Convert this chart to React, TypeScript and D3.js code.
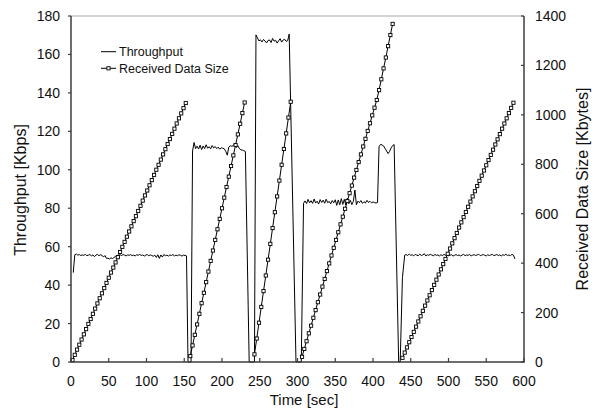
import React from 'react';
import * as d3 from 'd3';

// time ticks [sec] and the two value axes
const timeTicks = [0, 50, 100, 150, 200, 250, 300, 350, 400, 450, 500, 550, 600];
const kbpsTicks = [0, 20, 40, 60, 80, 100, 120, 140, 160, 180];
const kbyteTicks = [0, 200, 400, 600, 800, 1000, 1200, 1400];

// throughput [Kbps] per transfer, as [time, value]
const throughput1 = [
  [3, 46.5], [5, 55.8], [7, 56.2], [9, 55.6], [11, 55.9], [13, 55.4], [15, 55.7], [17, 55.5], [19, 56.0], [21, 55.3],
  [23, 55.6], [25, 55.9], [27, 55.2], [29, 55.7], [31, 54.8], [33, 55.6], [35, 56.0], [37, 55.3], [39, 55.8], [41, 55.5],
  [43, 54.6], [45, 55.4], [47, 53.9], [49, 54.0], [51, 53.6], [53, 54.2], [55, 53.8], [57, 54.4], [59, 54.9], [61, 55.6],
  [63, 55.1], [65, 55.8], [67, 55.4], [69, 55.9], [71, 55.6], [73, 55.2], [75, 55.7], [77, 55.5], [79, 55.9], [81, 55.3],
  [83, 55.6], [85, 55.2], [87, 55.8], [89, 55.5], [91, 56.0], [93, 55.4], [95, 55.7], [97, 55.1], [99, 55.6], [101, 55.9],
  [103, 55.3], [105, 55.7], [107, 55.4], [109, 55.0], [111, 55.6], [113, 54.4], [115, 55.8], [117, 53.9], [119, 55.7], [121, 54.6],
  [123, 55.9], [125, 55.3], [127, 55.6], [129, 55.1], [131, 55.7], [133, 55.4], [135, 55.9], [137, 55.2], [139, 55.6], [141, 55.3],
  [143, 55.8], [145, 55.5], [147, 55.1], [149, 55.6], [151, 55.4], [153, 55.2], [155, 0],
];
const throughput2 = [
  [159, 0], [161, 109.8], [163, 114.2], [165, 111.0], [167, 112.3], [169, 110.8], [171, 112.8], [173, 110.5], [175, 112.4],
  [177, 111.0], [179, 113.0], [181, 111.2], [183, 112.0], [185, 110.9], [187, 112.6], [189, 111.4], [191, 112.1], [193, 111.0],
  [195, 111.8], [197, 110.7], [199, 111.5], [201, 111.2], [203, 110.9], [205, 109.6], [207, 107.6], [209, 111.8], [211, 112.5],
  [213, 112.2], [215, 112.6], [217, 113.8], [219, 111.6], [221, 112.5], [223, 111.0], [225, 110.4], [227, 110.2], [229, 109.9],
  [231, 109.5], [236, 0],
];
const throughput3 = [
  [243, 0], [245, 170.2], [247, 168.6], [249, 167.0], [251, 167.6], [253, 166.5], [255, 167.8], [257, 167.0], [259, 166.0],
  [261, 167.3], [263, 167.5], [265, 166.2], [267, 168.3], [269, 166.9], [271, 167.4], [273, 165.9], [275, 167.1], [277, 168.2],
  [279, 166.4], [281, 167.5], [283, 167.9], [285, 166.8], [287, 167.2], [289, 170.6], [298, 0],
];
const throughput4 = [
  [305, 0], [308, 82.6], [310, 83.8], [312, 82.4], [314, 84.6], [316, 82.8], [318, 83.9], [320, 82.5], [322, 84.8], [324, 82.7],
  [326, 83.6], [328, 82.2], [330, 84.5], [332, 83.0], [334, 84.2], [336, 82.6], [338, 84.7], [340, 82.9], [342, 83.5], [344, 82.3],
  [346, 84.0], [348, 82.8], [350, 84.4], [352, 81.5], [354, 84.3], [356, 81.8], [358, 85.0], [360, 82.0], [362, 84.6], [364, 81.6],
  [366, 85.2], [368, 82.4], [370, 84.1], [372, 81.9], [374, 83.6], [376, 89.5], [378, 81.8], [380, 83.7], [382, 82.9], [384, 84.0],
  [386, 82.5], [388, 83.4], [390, 82.7], [392, 84.1], [394, 83.0], [396, 83.6], [398, 82.8], [400, 83.3], [402, 82.9], [404, 82.7],
  [406, 83.0], [408, 112.0], [410, 113.2], [412, 112.9], [414, 112.4], [416, 111.0], [418, 109.8], [420, 108.4], [422, 109.6],
  [424, 111.4], [426, 112.6], [428, 113.1], [434, 0],
];
const throughput5 = [
  [436, 0], [439, 44.0], [442, 55.6], [444, 55.9], [446, 55.4], [448, 56.2], [450, 55.5], [452, 55.8], [454, 55.2], [456, 56.0],
  [458, 55.6], [460, 55.3], [462, 56.1], [464, 55.4], [466, 55.7], [468, 56.3], [470, 55.2], [472, 55.8], [474, 55.5], [476, 56.0],
  [478, 55.6], [480, 55.3], [482, 55.9], [484, 55.5], [486, 55.7], [488, 55.2], [490, 55.8], [492, 55.4], [494, 56.0], [496, 55.5],
  [498, 55.9], [500, 55.3], [502, 55.6], [504, 55.8], [506, 55.1], [508, 55.5], [510, 55.9], [512, 55.4], [514, 55.7], [516, 55.2],
  [518, 55.6], [520, 56.0], [522, 55.3], [524, 55.7], [526, 55.5], [528, 55.9], [530, 55.2], [532, 55.6], [534, 55.8], [536, 55.4],
  [538, 55.7], [540, 56.1], [542, 55.3], [544, 55.6], [546, 55.9], [548, 55.5], [550, 55.2], [552, 55.8], [554, 55.4], [556, 55.7],
  [558, 56.0], [560, 55.3], [562, 55.6], [564, 55.9], [566, 55.4], [568, 55.7], [570, 55.2], [572, 55.8], [574, 55.5], [576, 56.1],
  [578, 55.4], [580, 55.7], [582, 55.3], [584, 56.0], [586, 55.6], [588, 53.6],
];

// received data size [Kbytes] per transfer, as [time, value]
const received1 = [
  [2, 8], [5, 29], [8, 50], [11, 70], [14, 91], [17, 112], [20, 133], [23, 154], [26, 174], [29, 195], [32, 216], [35, 237],
  [38, 258], [41, 278], [44, 299], [47, 320], [50, 341], [53, 362], [56, 382], [59, 403], [62, 424], [65, 445], [68, 466],
  [71, 486], [74, 507], [77, 528], [80, 549], [83, 570], [86, 590], [89, 611], [92, 632], [95, 653], [98, 674], [101, 694],
  [104, 715], [107, 736], [110, 757], [113, 778], [116, 798], [119, 819], [122, 840], [125, 861], [128, 882], [131, 902],
  [134, 923], [137, 944], [140, 965], [143, 986], [146, 1006], [149, 1027], [152, 1048],
];
const received2 = [
  [158, 24], [161, 67], [164, 110], [167, 152], [170, 195], [173, 238], [176, 280], [179, 323], [182, 366], [185, 409],
  [188, 451], [191, 494], [194, 537], [197, 579], [200, 622], [203, 665], [206, 708], [209, 750], [212, 793], [215, 836],
  [218, 878], [221, 921], [224, 964], [227, 1007], [230, 1050],
];
const received3 = [
  [243, 31], [246, 95], [249, 159], [252, 223], [255, 287], [258, 350], [261, 414], [264, 478], [267, 542], [270, 606],
  [273, 670], [276, 734], [279, 798], [282, 862], [285, 925], [288, 989], [291, 1053],
];
const received4 = [
  [306, 21], [309, 53], [312, 84], [315, 116], [318, 147], [321, 179], [324, 210], [327, 242], [330, 273], [333, 305],
  [336, 336], [339, 368], [342, 399], [345, 431], [348, 462], [351, 494], [354, 525], [357, 557], [360, 588], [363, 620],
  [366, 651], [369, 683], [372, 714], [375, 746], [378, 777], [381, 809], [384, 840], [387, 872], [390, 903], [393, 935],
  [396, 966], [399, 998], [402, 1029], [405, 1060], [408, 1100], [411, 1144], [414, 1188], [417, 1232], [420, 1278],
  [423, 1323], [426, 1368],
];
const received5 = [
  [439, 17], [442, 38], [445, 59], [448, 80], [451, 101], [454, 122], [457, 143], [460, 164], [463, 185], [466, 207],
  [469, 228], [472, 249], [475, 270], [478, 291], [481, 312], [484, 333], [487, 354], [490, 375], [493, 396], [496, 417],
  [499, 438], [502, 459], [505, 480], [508, 501], [511, 522], [514, 544], [517, 565], [520, 586], [523, 607], [526, 628],
  [529, 649], [532, 670], [535, 691], [538, 712], [541, 733], [544, 754], [547, 775], [550, 796], [553, 817], [556, 838],
  [559, 859], [562, 880], [565, 901], [568, 922], [571, 944], [574, 965], [577, 986], [580, 1007], [583, 1028], [586, 1049],
];

const font = '"Liberation Sans", Arial, sans-serif';
const axisColor = '#3c3c3c';

export default function App() {
  const width = 595, height = 410;
  const left = 71, right = 524, top = 16, bottom = 362;

  const x = d3.scaleLinear().domain([0, 600]).range([left, right]);
  const yL = d3.scaleLinear().domain([0, 180]).range([bottom, top]);
  const yR = d3.scaleLinear().domain([0, 1400]).range([bottom, top]);

  const tpLine = d3.line<number[]>().x(d => x(d[0])).y(d => yL(d[1]));
  const rdLine = d3.line<number[]>().x(d => x(d[0])).y(d => yR(d[1]));

  const throughput = [...throughput1, ...throughput2, ...throughput3, ...throughput4, ...throughput5];
  const received = [received1, received2, received3, received4, received5];

  const square = (cx: number, cy: number, key: string) => (
    <rect key={key} x={cx - 1.6} y={cy - 1.6} width={3.2} height={3.2}
      fill="white" stroke="black" strokeWidth={0.9} />
  );

  return (
    <svg width={width} height={height} style={{ position: 'absolute', left: 0, top: 0, background: 'white' }}
      fontFamily={font}>
      {/* frame */}
      <line x1={left} x2={right} y1={top} y2={top} stroke="#a8a8a8" strokeWidth={1} />

      {/* data */}
      <path d={tpLine(throughput) || ''} fill="none" stroke="black" strokeWidth={1} />
      {received.map((seg, i) => (
        <g key={'r' + i}>
          <path d={rdLine(seg) || ''} fill="none" stroke="black" strokeWidth={1} />
          {seg.map((d, j) => square(x(d[0]), yR(d[1]), i + '-' + j))}
        </g>
      ))}

      {/* axes */}
      <line x1={left} x2={left} y1={top} y2={bottom} stroke={axisColor} strokeWidth={1.5} />
      <line x1={right} x2={right} y1={top} y2={bottom} stroke={axisColor} strokeWidth={1.5} />
      <line x1={left - 0.75} x2={right + 0.75} y1={bottom} y2={bottom} stroke={axisColor} strokeWidth={1.5} />

      {timeTicks.map(t => (
        <g key={'x' + t}>
          <line x1={x(t)} x2={x(t)} y1={bottom} y2={bottom - 4} stroke={axisColor} strokeWidth={1.2} />
          <text x={x(t)} y={386} textAnchor="middle" fontSize={14} fill="#111">{t}</text>
        </g>
      ))}
      {kbpsTicks.map(v => (
        <g key={'l' + v}>
          <line x1={left - 3} x2={left} y1={yL(v)} y2={yL(v)} stroke={axisColor} strokeWidth={1.2} />
          <text x={60} y={yL(v)} dy="0.36em" textAnchor="end" fontSize={14} fill="#111">{v}</text>
        </g>
      ))}
      {kbyteTicks.map(v => (
        <g key={'r' + v}>
          <line x1={right - 3} x2={right} y1={yR(v)} y2={yR(v)} stroke={axisColor} strokeWidth={1.2} />
          <text x={535} y={yR(v)} dy="0.36em" textAnchor="start" fontSize={14} fill="#111">{v}</text>
        </g>
      ))}

      {/* axis titles */}
      <text x={304} y={404.5} textAnchor="middle" fontSize={15} fill="#111">Time [sec]</text>
      <text transform="translate(20,190) rotate(-90)" textAnchor="middle" dy="0.35em" fontSize={16} fill="#111">
        Throughput [Kbps]
      </text>
      <text transform="translate(582,189) rotate(-90)" textAnchor="middle" dy="0.35em" fontSize={16} fill="#111">
        Received Data Size [Kbytes]
      </text>

      {/* legend */}
      <line x1={101} x2={116} y1={51.7} y2={51.7} stroke="black" strokeWidth={1} />
      <text x={119} y={51.7} dy="0.35em" fontSize={12.5} fill="#111">Throughput</text>
      <line x1={101} x2={116} y1={68.3} y2={68.3} stroke="black" strokeWidth={1} />
      {square(108.5, 68.3, 'legend')}
      <text x={119} y={68.3} dy="0.35em" fontSize={12.5} fill="#111">Received Data Size</text>
    </svg>
  );
}
